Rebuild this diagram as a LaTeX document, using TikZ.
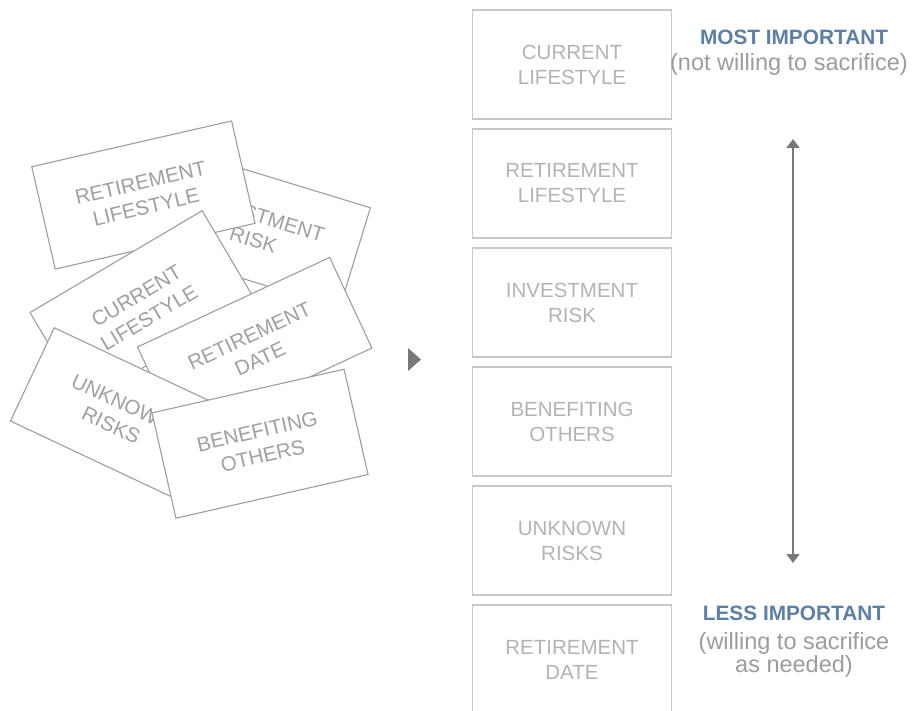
\documentclass[tikz,border=0pt]{standalone}
\usepackage{fontspec}
\setsansfont{Liberation Sans}
\usepackage{tikz}
\usetikzlibrary{arrows.meta}
\definecolor{cardline}{HTML}{9E9E9E}
\definecolor{cardtext}{HTML}{A0A0A0}
\definecolor{rankline}{HTML}{C8C8C8}
\definecolor{ranktext}{HTML}{B3B3B3}
\definecolor{headblue}{HTML}{5B7FA6}
\definecolor{notegray}{HTML}{9C9C9C}
\definecolor{arrowgray}{HTML}{787878}

\begin{document}
\begin{tikzpicture}[x=1pt, y=-1pt, font=\sffamily, >={Triangle[width=13pt,length=9pt]}]
    \tikzstyle{card} = [rectangle, draw=cardline, fill=white, line width=1.1pt, text=cardtext,
      align=center, font=\sffamily\fontsize{20.5}{25}\selectfont]
    \tikzstyle{rank} = [rectangle, draw=rankline, line width=1.6pt, text=ranktext,
      minimum width=199pt, minimum height=109pt, align=center, font=\sffamily\fontsize{20.5}{25}\selectfont]
    \tikzstyle{head} = [font=\sffamily\bfseries\fontsize{20.8}{24}\selectfont, text=headblue]
    \tikzstyle{note} = [font=\sffamily\fontsize{23.5}{21.5}\selectfont, text=notegray, align=center]

    \useasboundingbox (0,0) rectangle (917,710);

    % Loose pile on the left, bottom card first
    \node (invrisk) [card, minimum width=205pt, minimum height=105pt, rotate=-17]   at (257,228)     {INVESTMENT\\RISK};
    \node (retlife) [card, minimum width=205pt, minimum height=105pt, rotate=12.9]  at (143.4,195)   {RETIREMENT\\LIFESTYLE};
    \node (curlife) [card, minimum width=200pt, minimum height=105pt, rotate=30.6]  at (142.8,306.8) {CURRENT\\LIFESTYLE};
    \node (retdate) [card, minimum width=212pt, minimum height=100pt, rotate=25]    at (254.7,347.5) {RETIREMENT\\DATE};
    \node (unkrisk) [card, minimum width=186pt, minimum height=103pt, rotate=-25.2] at (116.5,414)   {UNKNOWN\\RISKS};
    \node (benefit) [card, minimum width=197pt, minimum height=108pt, rotate=12.8]  at (260,443.7)   {BENEFITING\\OTHERS};

    % Pointer between the pile and the ranking
    \fill [arrowgray] (408,348) -- (421,359.5) -- (408,371) -- cycle;

    % Ranked column
    \node (rcurrent) [rank] at (572,64.5)  {CURRENT\\LIFESTYLE};
    \node (rretlife) [rank] at (572,183.5) {RETIREMENT\\LIFESTYLE};
    \node (rinvrisk) [rank] at (572,302.5) {INVESTMENT\\RISK};
    \node (rbenefit) [rank] at (572,421.5) {BENEFITING\\OTHERS};
    \node (runknown) [rank] at (572,540.5) {UNKNOWN\\RISKS};
    \node (rretdate) [rank] at (572,659.5) {RETIREMENT\\DATE};

    % Importance scale
    \node (mosthead) [head] at (794,37)  {MOST IMPORTANT};
    \node (mostnote) [note] at (789,64)  {(not willing to sacrifice)};
    \node (lesshead) [head] at (794,613) {LESS IMPORTANT};
    \node (lessnote) [note] at (794,655) {(willing to sacrifice\\as needed)};

    \coordinate (scaletop) at (793,139);
    \coordinate (scalebot) at (793,563);
    \draw [<->, arrowgray, line width=1.8pt] (scaletop) -- (scalebot);
\end{tikzpicture}
\end{document}
